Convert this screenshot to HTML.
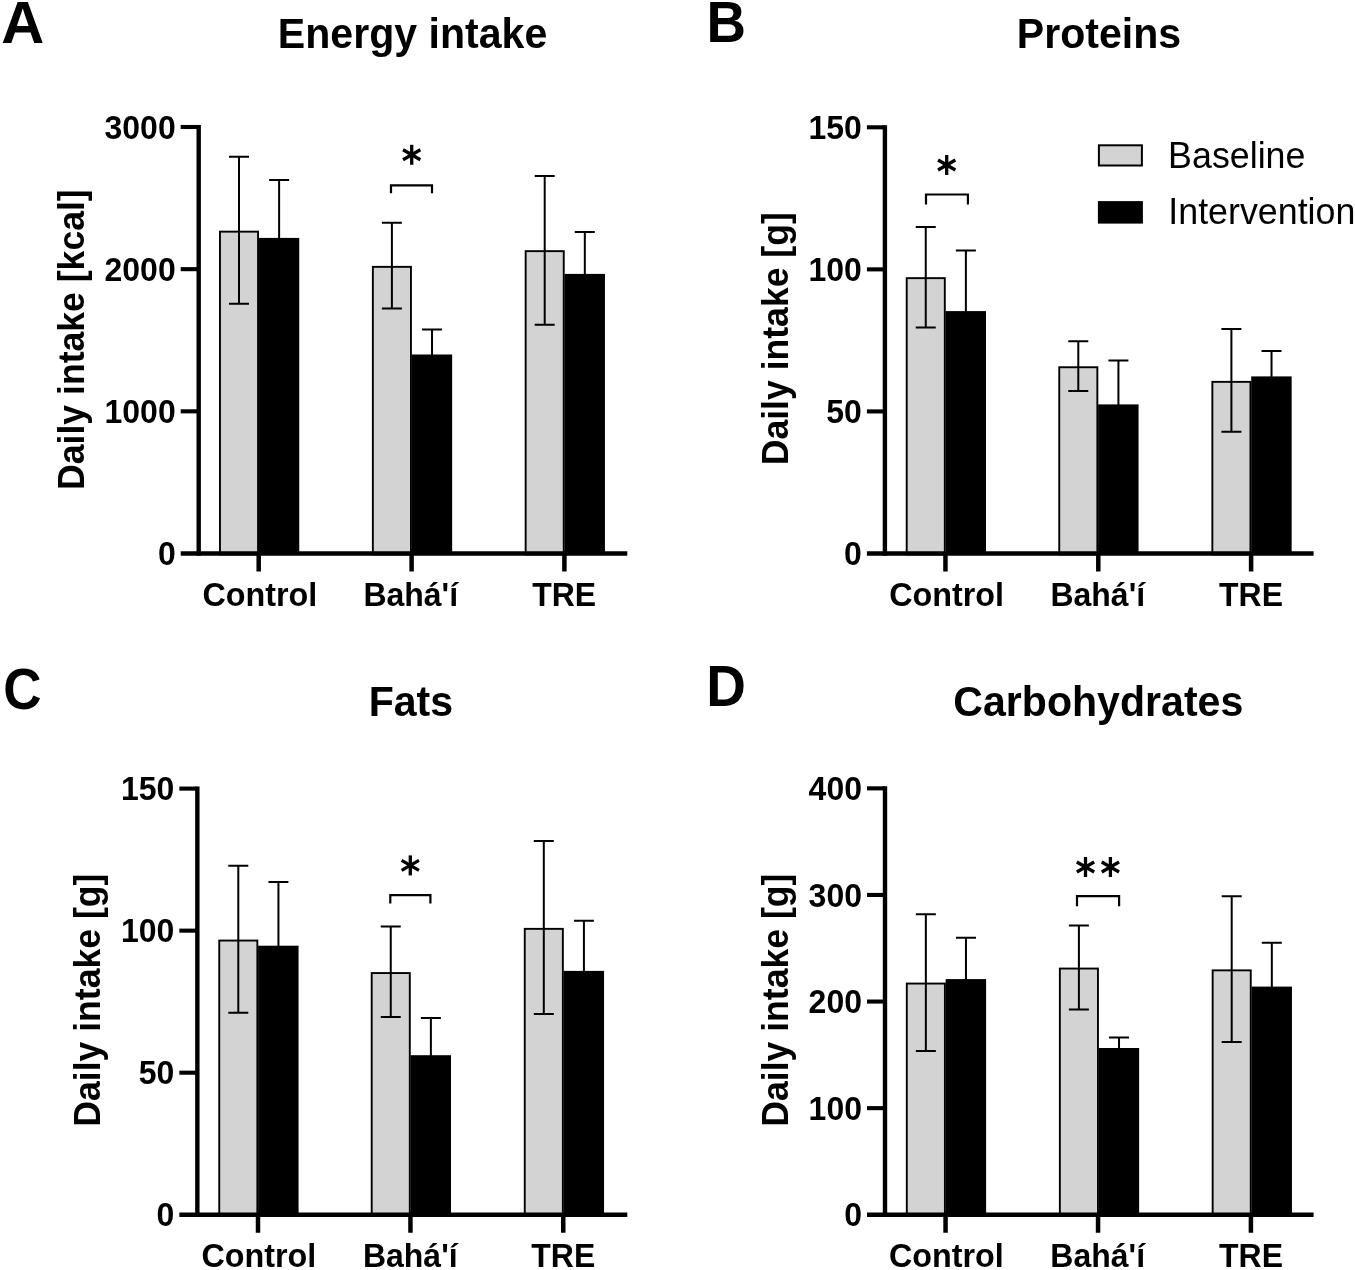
<!DOCTYPE html>
<html><head><meta charset="utf-8"><title>Daily intake</title>
<style>
html,body{margin:0;padding:0;background:#fff;}
svg{display:block;filter:grayscale(1);}
text{font-family:"Liberation Sans", sans-serif;fill:#000;}
</style></head><body>
<svg width="1355" height="1270" viewBox="0 0 1355 1270">
<rect x="0" y="0" width="1355" height="1270" fill="#fff"/>
<g>
<text transform="matrix(0.5955 0 0 0.5853 1.31 43.09)" font-size="100" font-weight="bold">A</text>
<text transform="translate(412.55 48.4) scale(1 1.025)" font-size="41.1" font-weight="bold" text-anchor="middle">Energy intake</text>
<rect x="258.8" y="237.9" width="40.45" height="315.6" fill="#000"/>
<rect x="219.95" y="231.65" width="38.1" height="322.8" fill="#d3d3d3" stroke="#000" stroke-width="1.9"/>
<path d="M239 156.8V303.7M229 156.8H249M229 303.7H249" stroke="#000" stroke-width="2.0" fill="none"/>
<path d="M279.12 180V239.9M269.12 180H289.12" stroke="#000" stroke-width="2.0" fill="none"/>
<rect x="411.7" y="354.5" width="40.45" height="199" fill="#000"/>
<rect x="372.85" y="266.85" width="38.1" height="287.6" fill="#d3d3d3" stroke="#000" stroke-width="1.9"/>
<path d="M391.9 222.7V308.5M381.9 222.7H401.9M381.9 308.5H401.9" stroke="#000" stroke-width="2.0" fill="none"/>
<path d="M432.03 329.6V356.5M422.03 329.6H442.03" stroke="#000" stroke-width="2.0" fill="none"/>
<rect x="564.5" y="273.9" width="40.45" height="279.6" fill="#000"/>
<rect x="525.65" y="251.15" width="38.1" height="303.3" fill="#d3d3d3" stroke="#000" stroke-width="1.9"/>
<path d="M544.7 176V324.8M534.7 176H554.7M534.7 324.8H554.7" stroke="#000" stroke-width="2.0" fill="none"/>
<path d="M584.82 232.1V275.9M574.82 232.1H594.82" stroke="#000" stroke-width="2.0" fill="none"/>
<path d="M198.7 125V555.8" stroke="#000" stroke-width="4.4" fill="none"/>
<path d="M180.7 553.5H627.3" stroke="#000" stroke-width="4.6" fill="none"/>
<text transform="translate(175.7 565.2) scale(1 1.025)" font-size="32" font-weight="bold" text-anchor="end">0</text>
<path d="M180.7 411.33H198.7" stroke="#000" stroke-width="4.1" fill="none"/>
<text transform="translate(175.7 423.03) scale(1 1.025)" font-size="32" font-weight="bold" text-anchor="end">1000</text>
<path d="M180.7 269.17H198.7" stroke="#000" stroke-width="4.1" fill="none"/>
<text transform="translate(175.7 280.87) scale(1 1.025)" font-size="32" font-weight="bold" text-anchor="end">2000</text>
<path d="M180.7 127H198.7" stroke="#000" stroke-width="4.1" fill="none"/>
<text transform="translate(175.7 138.7) scale(1 1.025)" font-size="32" font-weight="bold" text-anchor="end">3000</text>
<path d="M258.7 553.5V571.5" stroke="#000" stroke-width="4.5" fill="none"/>
<path d="M411.6 553.5V571.5" stroke="#000" stroke-width="4.5" fill="none"/>
<path d="M564.4 553.5V571.5" stroke="#000" stroke-width="4.5" fill="none"/>
<text transform="translate(259.8 605.5) scale(1.01 1.025)" font-size="32" font-weight="bold" text-anchor="middle">Control</text>
<text transform="translate(410.75 605.5) scale(1 1.025)" font-size="32" font-weight="bold" text-anchor="middle">Bahá&#39;í</text>
<text transform="translate(564.2 605.5) scale(1 1.025)" font-size="32" font-weight="bold" text-anchor="middle">TRE</text>
<text transform="translate(83.5 489.9) rotate(-90) scale(1 1.025)" font-size="35.6" font-weight="bold">Daily intake [kcal]</text>
<path d="M391 193.3V185.4H432V193.3" stroke="#000" stroke-width="2.2" fill="none"/>
<g transform="translate(411.7 154.8)" stroke="#000" stroke-width="3.3"><path d="M0 -10V10"/><path d="M0 -10V10" transform="rotate(60)"/><path d="M0 -10V10" transform="rotate(-60)"/></g>
</g>
<g>
<text transform="matrix(0.5475 0 0 0.5754 706.57 42.20)" font-size="100" font-weight="bold">B</text>
<text transform="translate(1099 48.1) scale(1 1.025)" font-size="41.1" font-weight="bold" text-anchor="middle">Proteins</text>
<rect x="945.55" y="311.1" width="40.45" height="242.4" fill="#000"/>
<rect x="906.7" y="278.15" width="38.1" height="276.3" fill="#d3d3d3" stroke="#000" stroke-width="1.9"/>
<path d="M925.75 227.1V327.4M915.75 227.1H935.75M915.75 327.4H935.75" stroke="#000" stroke-width="2.0" fill="none"/>
<path d="M965.88 250.6V313.1M955.88 250.6H975.88" stroke="#000" stroke-width="2.0" fill="none"/>
<rect x="1098.1" y="404.4" width="40.45" height="149.1" fill="#000"/>
<rect x="1059.25" y="367.25" width="38.1" height="187.2" fill="#d3d3d3" stroke="#000" stroke-width="1.9"/>
<path d="M1078.3 341.3V390.9M1068.3 341.3H1088.3M1068.3 390.9H1088.3" stroke="#000" stroke-width="2.0" fill="none"/>
<path d="M1118.42 360.6V406.4M1108.42 360.6H1128.42" stroke="#000" stroke-width="2.0" fill="none"/>
<rect x="1251.2" y="376.4" width="40.45" height="177.1" fill="#000"/>
<rect x="1212.35" y="381.85" width="38.1" height="172.6" fill="#d3d3d3" stroke="#000" stroke-width="1.9"/>
<path d="M1231.4 329V431.7M1221.4 329H1241.4M1221.4 431.7H1241.4" stroke="#000" stroke-width="2.0" fill="none"/>
<path d="M1271.52 351.1V378.4M1261.52 351.1H1281.52" stroke="#000" stroke-width="2.0" fill="none"/>
<path d="M884.9 125.3V555.8" stroke="#000" stroke-width="4.4" fill="none"/>
<path d="M866.9 553.5H1313.6" stroke="#000" stroke-width="4.6" fill="none"/>
<text transform="translate(861.9 565.2) scale(1 1.025)" font-size="32" font-weight="bold" text-anchor="end">0</text>
<path d="M866.9 411.43H884.9" stroke="#000" stroke-width="4.1" fill="none"/>
<text transform="translate(861.9 423.13) scale(1 1.025)" font-size="32" font-weight="bold" text-anchor="end">50</text>
<path d="M866.9 269.37H884.9" stroke="#000" stroke-width="4.1" fill="none"/>
<text transform="translate(861.9 281.07) scale(1 1.025)" font-size="32" font-weight="bold" text-anchor="end">100</text>
<path d="M866.9 127.3H884.9" stroke="#000" stroke-width="4.1" fill="none"/>
<text transform="translate(861.9 139) scale(1 1.025)" font-size="32" font-weight="bold" text-anchor="end">150</text>
<path d="M945.45 553.5V571.5" stroke="#000" stroke-width="4.5" fill="none"/>
<path d="M1098.3 553.5V571.5" stroke="#000" stroke-width="4.5" fill="none"/>
<path d="M1251.1 553.5V571.5" stroke="#000" stroke-width="4.5" fill="none"/>
<text transform="translate(946.65 605.5) scale(1.01 1.025)" font-size="32" font-weight="bold" text-anchor="middle">Control</text>
<text transform="translate(1097.8 605.5) scale(1 1.025)" font-size="32" font-weight="bold" text-anchor="middle">Bahá&#39;í</text>
<text transform="translate(1251.05 605.5) scale(1 1.025)" font-size="32" font-weight="bold" text-anchor="middle">TRE</text>
<text transform="translate(788 465.3) rotate(-90) scale(1 1.025)" font-size="35.6" font-weight="bold">Daily intake [g]</text>
<path d="M926 204.4V194.5H967.9V204.4" stroke="#000" stroke-width="2.2" fill="none"/>
<g transform="translate(946.7 165)" stroke="#000" stroke-width="3.3"><path d="M0 -10V10"/><path d="M0 -10V10" transform="rotate(60)"/><path d="M0 -10V10" transform="rotate(-60)"/></g>
<rect x="1098.9" y="145.3" width="43" height="20.2" fill="#d3d3d3" stroke="#000" stroke-width="2"/>
<rect x="1097.9" y="201.1" width="45" height="22.5" fill="#000"/>
<text transform="translate(1168.1 167.5) scale(1 1.025)" font-size="35.8">Baseline</text>
<text transform="translate(1168.3 224.2) scale(1 1.025)" font-size="35.8">Intervention</text>
</g>
<g>
<text transform="matrix(0.5292 0 0 0.5761 3.28 709.22)" font-size="100" font-weight="bold">C</text>
<text transform="translate(410.9 715.8) scale(1 1.025)" font-size="41.1" font-weight="bold" text-anchor="middle">Fats</text>
<rect x="258.1" y="945.7" width="40.45" height="269.05" fill="#000"/>
<rect x="219.25" y="940.55" width="38.1" height="275.15" fill="#d3d3d3" stroke="#000" stroke-width="1.9"/>
<path d="M238.3 865.7V1012.8M228.3 865.7H248.3M228.3 1012.8H248.3" stroke="#000" stroke-width="2.0" fill="none"/>
<path d="M278.43 882V947.7M268.43 882H288.43" stroke="#000" stroke-width="2.0" fill="none"/>
<rect x="410.55" y="1055.2" width="40.45" height="159.55" fill="#000"/>
<rect x="371.7" y="973.05" width="38.1" height="242.65" fill="#d3d3d3" stroke="#000" stroke-width="1.9"/>
<path d="M390.75 926.5V1017.1M380.75 926.5H400.75M380.75 1017.1H400.75" stroke="#000" stroke-width="2.0" fill="none"/>
<path d="M430.88 1018V1057.2M420.88 1018H440.88" stroke="#000" stroke-width="2.0" fill="none"/>
<rect x="563.6" y="970.9" width="40.45" height="243.85" fill="#000"/>
<rect x="524.75" y="928.85" width="38.1" height="286.85" fill="#d3d3d3" stroke="#000" stroke-width="1.9"/>
<path d="M543.8 841.1V1013.9M533.8 841.1H553.8M533.8 1013.9H553.8" stroke="#000" stroke-width="2.0" fill="none"/>
<path d="M583.92 920.7V972.9M573.92 920.7H593.92" stroke="#000" stroke-width="2.0" fill="none"/>
<path d="M197.35 786.6V1217.05" stroke="#000" stroke-width="4.4" fill="none"/>
<path d="M179.35 1214.75H627.3" stroke="#000" stroke-width="4.6" fill="none"/>
<text transform="translate(174.35 1226.45) scale(1 1.025)" font-size="32" font-weight="bold" text-anchor="end">0</text>
<path d="M179.35 1072.7H197.35" stroke="#000" stroke-width="4.1" fill="none"/>
<text transform="translate(174.35 1084.4) scale(1 1.025)" font-size="32" font-weight="bold" text-anchor="end">50</text>
<path d="M179.35 930.65H197.35" stroke="#000" stroke-width="4.1" fill="none"/>
<text transform="translate(174.35 942.35) scale(1 1.025)" font-size="32" font-weight="bold" text-anchor="end">100</text>
<path d="M179.35 788.6H197.35" stroke="#000" stroke-width="4.1" fill="none"/>
<text transform="translate(174.35 800.3) scale(1 1.025)" font-size="32" font-weight="bold" text-anchor="end">150</text>
<path d="M258 1214.75V1232.75" stroke="#000" stroke-width="4.5" fill="none"/>
<path d="M410.45 1214.75V1232.75" stroke="#000" stroke-width="4.5" fill="none"/>
<path d="M563.25 1214.75V1232.75" stroke="#000" stroke-width="4.5" fill="none"/>
<text transform="translate(258.9 1266.8) scale(1.01 1.025)" font-size="32" font-weight="bold" text-anchor="middle">Control</text>
<text transform="translate(410.3 1266.8) scale(1 1.025)" font-size="32" font-weight="bold" text-anchor="middle">Bahá&#39;í</text>
<text transform="translate(563.3 1266.8) scale(1 1.025)" font-size="32" font-weight="bold" text-anchor="middle">TRE</text>
<text transform="translate(100.3 1126.7) rotate(-90) scale(1 1.025)" font-size="35.6" font-weight="bold">Daily intake [g]</text>
<path d="M390.3 903.5V895.2H430.4V903.5" stroke="#000" stroke-width="2.2" fill="none"/>
<g transform="translate(410.3 865.4)" stroke="#000" stroke-width="3.3"><path d="M0 -10V10"/><path d="M0 -10V10" transform="rotate(60)"/><path d="M0 -10V10" transform="rotate(-60)"/></g>
</g>
<g>
<text transform="matrix(0.5492 0 0 0.5739 706.36 705.70)" font-size="100" font-weight="bold">D</text>
<text transform="translate(1098.3 715.6) scale(1 1.025)" font-size="41.1" font-weight="bold" text-anchor="middle">Carbohydrates</text>
<rect x="945.65" y="979.1" width="40.45" height="235.65" fill="#000"/>
<rect x="906.8" y="983.55" width="38.1" height="232.15" fill="#d3d3d3" stroke="#000" stroke-width="1.9"/>
<path d="M925.85 914.2V1050.9M915.85 914.2H935.85M915.85 1050.9H935.85" stroke="#000" stroke-width="2.0" fill="none"/>
<path d="M965.97 937.7V981.1M955.97 937.7H975.97" stroke="#000" stroke-width="2.0" fill="none"/>
<rect x="1098.7" y="1048" width="40.45" height="166.75" fill="#000"/>
<rect x="1059.85" y="968.55" width="38.1" height="247.15" fill="#d3d3d3" stroke="#000" stroke-width="1.9"/>
<path d="M1078.9 925.6V1009.4M1068.9 925.6H1088.9M1068.9 1009.4H1088.9" stroke="#000" stroke-width="2.0" fill="none"/>
<path d="M1119.02 1037.6V1050M1109.02 1037.6H1129.02" stroke="#000" stroke-width="2.0" fill="none"/>
<rect x="1251.5" y="986.6" width="40.45" height="228.15" fill="#000"/>
<rect x="1212.65" y="970.35" width="38.1" height="245.35" fill="#d3d3d3" stroke="#000" stroke-width="1.9"/>
<path d="M1231.7 896.2V1042.1M1221.7 896.2H1241.7M1221.7 1042.1H1241.7" stroke="#000" stroke-width="2.0" fill="none"/>
<path d="M1271.83 942.8V988.6M1261.83 942.8H1281.83" stroke="#000" stroke-width="2.0" fill="none"/>
<path d="M885 786.35V1217.05" stroke="#000" stroke-width="4.4" fill="none"/>
<path d="M867 1214.75H1313.6" stroke="#000" stroke-width="4.6" fill="none"/>
<text transform="translate(862 1226.45) scale(1 1.025)" font-size="32" font-weight="bold" text-anchor="end">0</text>
<path d="M867 1108.15H885" stroke="#000" stroke-width="4.1" fill="none"/>
<text transform="translate(862 1119.85) scale(1 1.025)" font-size="32" font-weight="bold" text-anchor="end">100</text>
<path d="M867 1001.55H885" stroke="#000" stroke-width="4.1" fill="none"/>
<text transform="translate(862 1013.25) scale(1 1.025)" font-size="32" font-weight="bold" text-anchor="end">200</text>
<path d="M867 894.95H885" stroke="#000" stroke-width="4.1" fill="none"/>
<text transform="translate(862 906.65) scale(1 1.025)" font-size="32" font-weight="bold" text-anchor="end">300</text>
<path d="M867 788.35H885" stroke="#000" stroke-width="4.1" fill="none"/>
<text transform="translate(862 800.05) scale(1 1.025)" font-size="32" font-weight="bold" text-anchor="end">400</text>
<path d="M945.55 1214.75V1232.75" stroke="#000" stroke-width="4.5" fill="none"/>
<path d="M1098.05 1214.75V1232.75" stroke="#000" stroke-width="4.5" fill="none"/>
<path d="M1250.9 1214.75V1232.75" stroke="#000" stroke-width="4.5" fill="none"/>
<text transform="translate(946.4 1266.8) scale(1.01 1.025)" font-size="32" font-weight="bold" text-anchor="middle">Control</text>
<text transform="translate(1097.7 1266.8) scale(1 1.025)" font-size="32" font-weight="bold" text-anchor="middle">Bahá&#39;í</text>
<text transform="translate(1251 1266.8) scale(1 1.025)" font-size="32" font-weight="bold" text-anchor="middle">TRE</text>
<text transform="translate(788 1126.7) rotate(-90) scale(1 1.025)" font-size="35.6" font-weight="bold">Daily intake [g]</text>
<path d="M1077 906.2V896.2H1119.1V906.2" stroke="#000" stroke-width="2.2" fill="none"/>
<g transform="translate(1085.5 867)" stroke="#000" stroke-width="3.3"><path d="M0 -10V10"/><path d="M0 -10V10" transform="rotate(60)"/><path d="M0 -10V10" transform="rotate(-60)"/></g>
<g transform="translate(1110.4 867)" stroke="#000" stroke-width="3.3"><path d="M0 -10V10"/><path d="M0 -10V10" transform="rotate(60)"/><path d="M0 -10V10" transform="rotate(-60)"/></g>
</g>
</svg>
</body></html>
